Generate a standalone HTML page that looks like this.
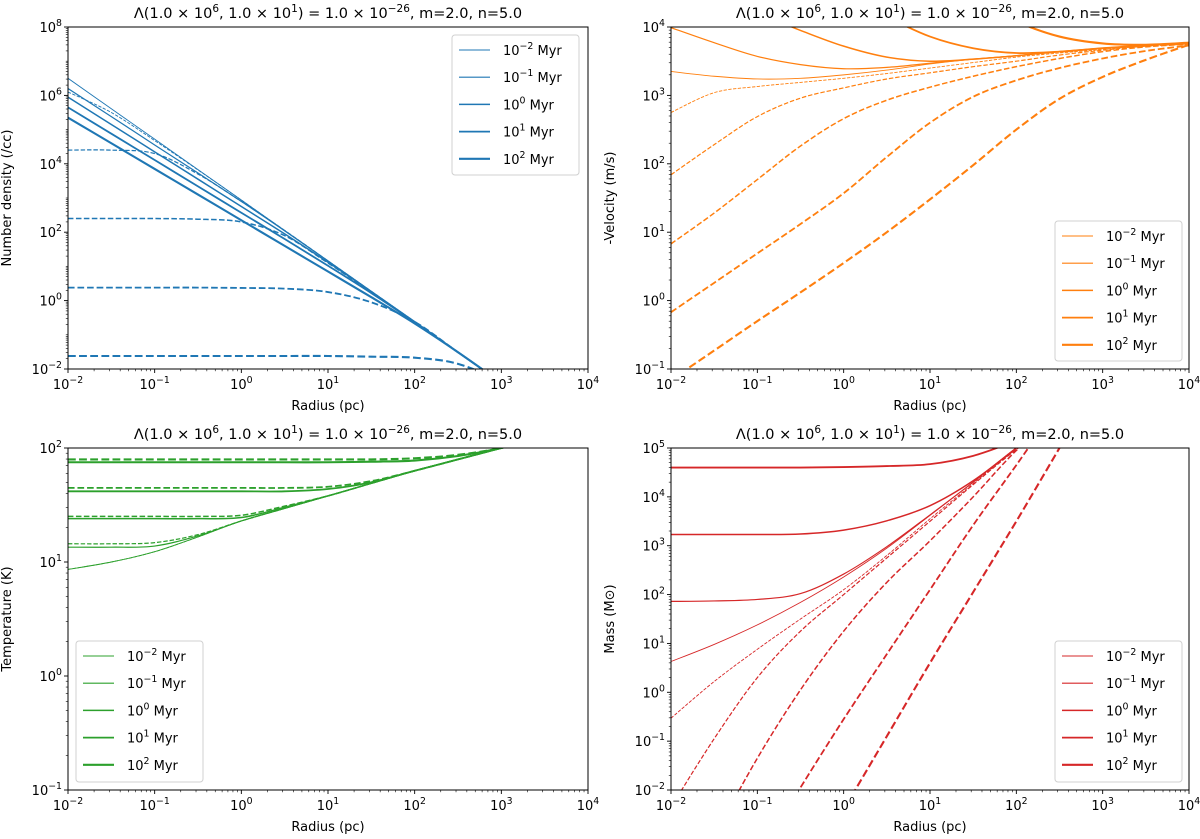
<!DOCTYPE html>
<html><head><meta charset="utf-8"><style>
html,body{margin:0;padding:0;background:#fff;width:1200px;height:839px;overflow:hidden;}
svg{display:block;font-family:"DejaVu Sans","Liberation Sans",sans-serif;}
</style></head><body>
<svg id="fig" width="1200" height="839" viewBox="0 0 1200 839" xmlns="http://www.w3.org/2000/svg"></svg>
<script>
// shared radius grid (log10 pc)
const radiusLog = [-2,-1.5,-1,-0.5,0,0.5,1,1.5,2,2.5,3,3.5,4];
const ageLabels = ["-2","-1","0","1","2"];
// density (log10 /cc)
const densSolid0 = [6.5,5.61,4.72,3.83,2.94,2.05,1.16,0.27,-0.62,-1.51,-2.4,-3.29,-4.18];
const densSolid1 = [6.2,5.38,4.55,3.73,2.9,2.04,1.16,0.27,-0.62,-1.51,-2.4,-3.29,-4.18];
const densSolid2 = [5.95,5.15,4.35,3.55,2.75,1.95,1.12,0.26,-0.62,-1.51,-2.4,-3.29,-4.18];
const densSolid3 = [5.65,4.88,4.11,3.34,2.57,1.8,1.02,0.22,-0.63,-1.51,-2.4,-3.29,-4.18];
const densSolid4 = [5.35,4.6,3.85,3.1,2.35,1.6,0.85,0.1,-0.67,-1.51,-2.4,-3.29,-4.18];
const densDash0 = [6.1,5.5,4.68,3.82,2.94,2.05,1.16,0.27,-0.62,-1.51,-2.4,-3.29,-4.18];
const densDash1 = [4.4,4.4,4.3,3.7,2.9,2.05,1.16,0.27,-0.62,-1.51,-2.4,-3.29,-4.18];
const densDash2 = [2.4,2.4,2.4,2.38,2.3,1.9,1.1,0.25,-0.62,-1.51,-2.4,-3.29,-4.18];
const densDash3 = [0.38,0.38,0.38,0.38,0.37,0.35,0.25,-0.05,-0.62,-1.51,-2.4,-3.29,-4.18];
const densDash4 = [-1.62,-1.62,-1.62,-1.62,-1.62,-1.62,-1.62,-1.64,-1.67,-1.85,-2.4,-3.29,-4.18];
// velocity (log10 m/s)
const velSolid0 = [3.35,3.28,3.24,3.25,3.3,3.37,3.46,3.53,3.58,3.64,3.69,3.73,3.77];
const velSolid1 = [3.99,3.77,3.57,3.45,3.39,3.41,3.47,3.53,3.58,3.64,3.69,3.73,3.77];
const velSolid2 = [4.6,4.4,4.2,3.95,3.72,3.56,3.5,3.53,3.58,3.64,3.69,3.73,3.77];
const velSolid3 = [5.4,5.2,5.0,4.75,4.5,4.15,3.86,3.69,3.62,3.64,3.69,3.73,3.77];
const velSolid4 = [6.5,6.2,5.9,5.6,5.3,5.0,4.7,4.4,4.08,3.86,3.76,3.74,3.77];
const velDash0 = [2.75,3.04,3.13,3.19,3.25,3.32,3.4,3.48,3.56,3.62,3.67,3.72,3.75];
const velDash1 = [1.84,2.28,2.69,2.96,3.11,3.24,3.33,3.42,3.5,3.59,3.66,3.72,3.75];
const velDash2 = [0.83,1.28,1.77,2.26,2.66,2.93,3.12,3.28,3.42,3.54,3.64,3.71,3.75];
const velDash3 = [-0.17,0.26,0.69,1.12,1.57,2.1,2.6,2.98,3.22,3.4,3.54,3.65,3.73];
const velDash4 = [-1.16,-0.73,-0.3,0.12,0.55,1.0,1.48,1.98,2.5,2.95,3.27,3.52,3.74];
// temperature (log10 K)
const tempSolid0 = [0.935,1.0,1.09,1.22,1.36,1.47,1.58,1.69,1.8,1.9,2.0,2.1,2.2];
const tempSolid1 = [1.13,1.13,1.14,1.23,1.36,1.47,1.58,1.69,1.8,1.9,2.0,2.1,2.2];
const tempSolid2 = [1.38,1.38,1.38,1.38,1.39,1.48,1.58,1.69,1.8,1.9,2.0,2.1,2.2];
const tempSolid3 = [1.62,1.62,1.62,1.62,1.62,1.62,1.64,1.7,1.8,1.9,2.0,2.1,2.2];
const tempSolid4 = [1.875,1.875,1.875,1.875,1.875,1.875,1.875,1.88,1.89,1.93,2.0,2.1,2.2];
const tempDash0 = [0.935,1.0,1.09,1.22,1.36,1.47,1.58,1.69,1.8,1.9,2.0,2.1,2.2];
const tempDash1 = [1.16,1.16,1.17,1.24,1.36,1.47,1.58,1.69,1.8,1.9,2.0,2.1,2.2];
const tempDash2 = [1.40,1.40,1.40,1.40,1.41,1.49,1.58,1.69,1.8,1.9,2.0,2.1,2.2];
const tempDash3 = [1.65,1.65,1.65,1.65,1.65,1.65,1.66,1.71,1.8,1.9,2.0,2.1,2.2];
const tempDash4 = [1.9,1.9,1.9,1.9,1.9,1.9,1.9,1.9,1.91,1.94,2.0,2.1,2.2];
// mass (log10 Msun)
const massSolid0 = [0.63,0.98,1.38,1.84,2.36,2.95,3.62,4.3,5.0,5.6,6.2,6.8,7.4];
const massSolid1 = [1.86,1.87,1.9,2.02,2.42,2.98,3.63,4.3,5.0,5.6,6.2,6.8,7.4];
const massSolid2 = [3.23,3.23,3.23,3.24,3.32,3.51,3.82,4.33,5.0,5.7,6.3,6.9,7.5];
const massSolid3 = [4.6,4.6,4.6,4.6,4.61,4.63,4.67,4.84,5.15,5.5,6.0,6.5,7.0];
const massSolid4 = [6.0,6.0,6.0,6.0,6.0,6.0,6.0,6.0,6.1,6.3,6.6,7.0,7.4];
const massDash0 = [-0.53,0.22,0.88,1.5,2.1,2.8,3.55,4.27,4.98,5.6,6.2,6.8,7.4];
const massDash1 = [-2.35,-0.95,0.3,1.25,2.0,2.75,3.5,4.25,4.97,5.6,6.2,6.8,7.4];
const massDash2 = [-4.6,-2.95,-1.35,0.05,1.25,2.25,3.1,4.0,4.95,5.7,6.3,6.9,7.5];
const massDash3 = [-6.5,-5.0,-3.4,-1.95,-0.55,0.78,2.1,3.42,4.65,5.9,7.0,8.0,9.0];
const massDash4 = [-8.4,-6.9,-5.4,-3.9,-2.4,-0.9,0.6,2.05,3.5,5.0,6.5,7.5,8.5];

const NS = "http://www.w3.org/2000/svg";
const svg = document.getElementById("fig");
function mk(tag, attrs, parent){const e=document.createElementNS(NS,tag);for(const k in attrs)e.setAttribute(k,attrs[k]);(parent||svg).appendChild(e);return e;}
const widths=[0.9,1.2,1.5,1.8,2.1];

const panels=[
 {id:"density",x0:68,x1:588,y0:27,y1:369,ymin:-2,ymax:8,ystep:2,ylabel:"Number density (/cc)",color:"#1f77b4",
  solids:[densSolid0,densSolid1,densSolid2,densSolid3,densSolid4],dashes:[densDash0,densDash1,densDash2,densDash3,densDash4],
  legend:{x:452,y:35,w:127,h:140}},
 {id:"velocity",x0:671,x1:1189,y0:27,y1:369,ymin:-1,ymax:4,ystep:1,ylabel:"-Velocity (m/s)",color:"#ff7f0e",
  solids:[velSolid0,velSolid1,velSolid2,velSolid3,velSolid4],dashes:[velDash0,velDash1,velDash2,velDash3,velDash4],
  legend:{x:1055,y:221,w:127,h:140}},
 {id:"temperature",x0:68,x1:588,y0:448,y1:790,ymin:-1,ymax:2,ystep:1,ylabel:"Temperature (K)",color:"#2ca02c",
  solids:[tempSolid0,tempSolid1,tempSolid2,tempSolid3,tempSolid4],dashes:[tempDash0,tempDash1,tempDash2,tempDash3,tempDash4],
  legend:{x:76,y:641,w:127,h:141}},
 {id:"mass",x0:671,x1:1189,y0:448,y1:790,ymin:-2,ymax:5,ystep:1,ylabel:"Mass (M\u2299)",color:"#d62728",
  solids:[massSolid0,massSolid1,massSolid2,massSolid3,massSolid4],dashes:[massDash0,massDash1,massDash2,massDash3,massDash4],
  legend:{x:1055,y:641,w:127,h:141}}
];

function powText(parent, x, y, exp, anchor, size, name){
  const t=mk("text",{x:x,y:y,"font-size":size,"text-anchor":anchor,fill:"#000"},parent);
  
  
  t.appendChild(document.createTextNode("10"));
  const s=mk("tspan",{dy:-6,"font-size":size*0.72},t); s.textContent=exp.replace("-","\u2212");
  return t;
}

function pathFrom(pts){
  let d="M"+pts[0][0].toFixed(2)+","+pts[0][1].toFixed(2);
  for(let i=0;i<pts.length-1;i++){
    const p0=pts[Math.max(0,i-1)],p1=pts[i],p2=pts[i+1],p3=pts[Math.min(pts.length-1,i+2)];
    const c1=[p1[0]+(p2[0]-p0[0])/6,p1[1]+(p2[1]-p0[1])/6];
    const c2=[p2[0]-(p3[0]-p1[0])/6,p2[1]-(p3[1]-p1[1])/6];
    d+=" C"+c1[0].toFixed(2)+","+c1[1].toFixed(2)+" "+c2[0].toFixed(2)+","+c2[1].toFixed(2)+" "+p2[0].toFixed(2)+","+p2[1].toFixed(2);
  }
  return d;
}

panels.forEach(function(p,pi){
  const g=mk("g",{});
  
  
  const xs=v=>p.x0+(v+2)/6*(p.x1-p.x0);
  const ys=v=>p.y1-(v-p.ymin)/(p.ymax-p.ymin)*(p.y1-p.y0);
  const cid="clip"+pi;
  const cp=mk("clipPath",{id:cid},g); mk("rect",{x:p.x0,y:p.y0,width:p.x1-p.x0,height:p.y1-p.y0},cp);
  const tt=mk("text",{x:(p.x0+p.x1)/2,y:p.y0-9,"font-size":14.5,"text-anchor":"middle"},g);
  
  
  tt.innerHTML='\u039B(1.0 \u00D7 10<tspan dy="-6" font-size="10.5">6</tspan><tspan dy="6">, 1.0 \u00D7 10</tspan><tspan dy="-6" font-size="10.5">1</tspan><tspan dy="6">) = 1.0 \u00D7 10</tspan><tspan dy="-6" font-size="10.5">\u221226</tspan><tspan dy="6">, m=2.0, n=5.0</tspan>';
  const cg=mk("g",{"clip-path":"url(#"+cid+")",fill:"none"},g);
  p.dashes.forEach(function(arr,i){
    const pts=radiusLog.map((x,j)=>[xs(x),ys(arr[j])]);
    const e=mk("path",{d:pathFrom(pts),stroke:p.color,"stroke-width":widths[i],"stroke-dasharray":(3.7*widths[i]).toFixed(2)+","+(1.6*widths[i]).toFixed(2)},cg);
    
    
  });
  p.solids.forEach(function(arr,i){
    const pts=radiusLog.map((x,j)=>[xs(x),ys(arr[j])]);
    const e=mk("path",{d:pathFrom(pts),stroke:p.color,"stroke-width":widths[i]},cg);
    
    
  });
  const fr=mk("rect",{x:p.x0,y:p.y0,width:p.x1-p.x0,height:p.y1-p.y0,fill:"none",stroke:"#000","stroke-width":1},g);
  
  
  for(let d=-2;d<=4;d++){
    const X=xs(d);
    mk("line",{x1:X,x2:X,y1:p.y1,y2:p.y1+4,stroke:"#000","stroke-width":0.9},g);
    powText(g,X,p.y1+20,String(d),"middle",13,p.id+'-x-tick-label');
    if(d<4)for(let m=2;m<=9;m++){const Xm=xs(d+Math.log10(m));mk("line",{x1:Xm,x2:Xm,y1:p.y1,y2:p.y1+2.2,stroke:"#000","stroke-width":0.6},g);}
  }
  const xl=mk("text",{x:(p.x0+p.x1)/2,y:p.y1+41,"font-size":13,"text-anchor":"middle"},g);
  xl.textContent="Radius (pc)";
  
  
  for(let d=p.ymin;d<=p.ymax;d++){
    const Y=ys(d);
    if((d-p.ymin)%p.ystep===0){
      mk("line",{x1:p.x0-4,x2:p.x0,y1:Y,y2:Y,stroke:"#000","stroke-width":0.9},g);
      powText(g,p.x0-6,Y+5,String(d),"end",13,p.id+'-y-tick-label');
    } else {
      mk("line",{x1:p.x0-2.2,x2:p.x0,y1:Y,y2:Y,stroke:"#000","stroke-width":0.6},g);
    }
    if(d<p.ymax)for(let m=2;m<=9;m++){const Ym=ys(d+Math.log10(m));mk("line",{x1:p.x0-2.2,x2:p.x0,y1:Ym,y2:Ym,stroke:"#000","stroke-width":0.6},g);}
  }
  const ylx=p.x0-57, yly=(p.y0+p.y1)/2;
  const yl=mk("text",{x:ylx,y:yly,"font-size":13,"text-anchor":"middle",transform:"rotate(-90 "+ylx+" "+yly+")"},g);
  yl.textContent=p.ylabel;
  
  
  const L=p.legend;
  const lg=mk("g",{},g);
  
  
  mk("rect",{x:L.x,y:L.y,width:L.w,height:L.h,rx:3,fill:"#fff","fill-opacity":0.8,stroke:"#d0d0d0","stroke-width":1},lg);
  ageLabels.forEach(function(a,i){
    const yy=L.y+15+i*27.2;
    const ln=mk("line",{x1:L.x+7,x2:L.x+38,y1:yy,y2:yy,stroke:p.color,"stroke-width":widths[i]},lg);
    
    
    const t=mk("text",{x:L.x+51,y:yy+5,"font-size":13},lg);
    
    
    t.appendChild(document.createTextNode("10"));
    const s=mk("tspan",{dy:-6,"font-size":9.4},t); s.textContent=a.replace("-","\u2212");
    const s2=mk("tspan",{dy:6},t); s2.textContent=" Myr";
  });
});
</script>
</body></html>
